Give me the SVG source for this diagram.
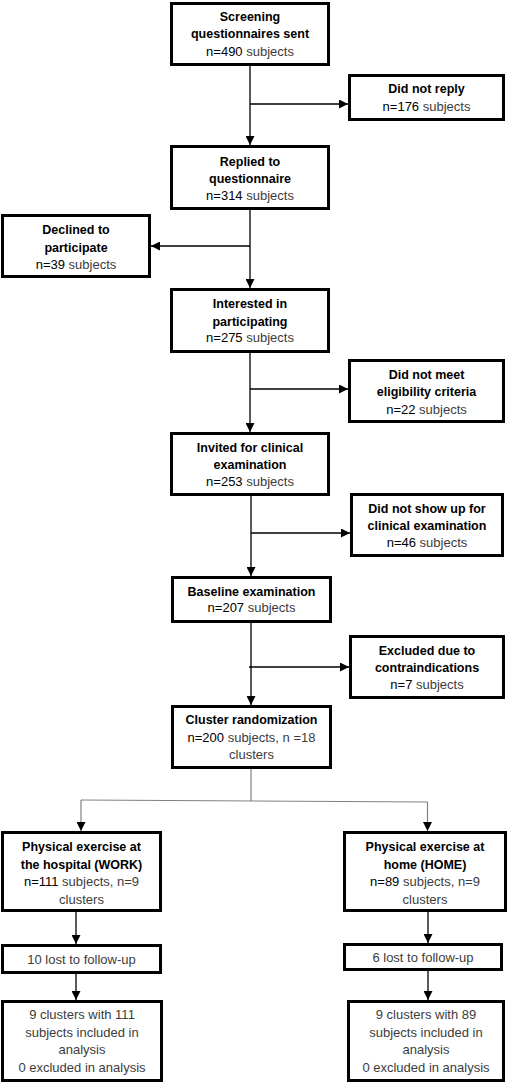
<svg xmlns="http://www.w3.org/2000/svg" width="508" height="1083" viewBox="0 0 508 1083">
<style>
.box{fill:#fff;stroke:#000;stroke-width:3}
text{font-family:"Liberation Sans",Arial,sans-serif;font-size:13px;text-anchor:middle;fill:#3c3c3c}
.b{font-weight:bold;fill:#000;font-size:12.5px}
.k{fill:#000}
.c{fill:none;stroke:#000;stroke-width:1.3}
.g{fill:none;stroke:#808080;stroke-width:1.2}
</style>
<defs>
<marker id="ah" markerUnits="userSpaceOnUse" markerWidth="9" markerHeight="9" refX="8" refY="4" orient="auto" viewBox="0 0 8 8">
<path d="M0,0 L8,4 L0,8 Z" fill="#000"/>
</marker>
</defs>
<rect width="508" height="1083" fill="#fff"/>
<g id="connectors">
<line class="c" x1="250" y1="66" x2="250" y2="145" marker-end="url(#ah)"/>
<line class="c" x1="250" y1="104" x2="348" y2="104" marker-end="url(#ah)"/>
<line class="c" x1="250" y1="210" x2="250" y2="288" marker-end="url(#ah)"/>
<line class="c" x1="250" y1="246" x2="151" y2="246" marker-end="url(#ah)"/>
<line class="c" x1="250" y1="353" x2="250" y2="432" marker-end="url(#ah)"/>
<line class="c" x1="250" y1="389" x2="348" y2="389" marker-end="url(#ah)"/>
<line class="c" x1="251" y1="496" x2="251" y2="576" marker-end="url(#ah)"/>
<line class="c" x1="251" y1="533" x2="350" y2="533" marker-end="url(#ah)"/>
<line class="c" x1="251" y1="623" x2="251" y2="705" marker-end="url(#ah)"/>
<line class="c" x1="249" y1="667" x2="349" y2="667" marker-end="url(#ah)"/>
<line class="g" x1="251" y1="769" x2="251" y2="801"/>
<line class="g" x1="81" y1="800" x2="427.5" y2="802"/>
<line class="g" x1="81" y1="800" x2="81" y2="831" marker-end="url(#ah)"/>
<line class="g" x1="427.5" y1="802" x2="427.5" y2="831" marker-end="url(#ah)"/>
<line class="c" x1="76" y1="912" x2="76" y2="944" marker-end="url(#ah)"/>
<line class="c" x1="76" y1="974" x2="76" y2="1000" marker-end="url(#ah)"/>
<line class="c" x1="428" y1="912" x2="428" y2="943" marker-end="url(#ah)"/>
<line class="c" x1="428" y1="971" x2="428" y2="1000" marker-end="url(#ah)"/>
</g>
<g id="screening">
<rect class="box" x="171.5" y="3.5" width="157" height="61"/>
<text class="b" x="250" y="20.5">Screening</text>
<text class="b" x="250" y="38">questionnaires sent</text>
<text x="250" y="55.5"><tspan class="k">n=490</tspan> subjects</text>
</g>
<g id="noreply">
<rect class="box" x="349.5" y="75.5" width="154" height="44"/>
<text class="b" x="426.5" y="92.5">Did not reply</text>
<text x="426.5" y="110.5"><tspan class="k">n=176</tspan> subjects</text>
</g>
<g id="replied">
<rect class="box" x="171.5" y="146.5" width="157" height="62"/>
<text class="b" x="250" y="165.5">Replied to</text>
<text class="b" x="250" y="182.5">questionnaire</text>
<text x="250" y="199.5"><tspan class="k">n=314</tspan> subjects</text>
</g>
<g id="declined">
<rect class="box" x="2.5" y="215.5" width="147" height="61"/>
<text class="b" x="76" y="233.5">Declined to</text>
<text class="b" x="76" y="251.5">participate</text>
<text x="76" y="268.5"><tspan class="k">n=39</tspan> subjects</text>
</g>
<g id="interested">
<rect class="box" x="171.5" y="289.5" width="157" height="62"/>
<text class="b" x="250" y="307.5">Interested in</text>
<text class="b" x="250" y="325.5">participating</text>
<text x="250" y="341.5"><tspan class="k">n=275</tspan> subjects</text>
</g>
<g id="noteligible">
<rect class="box" x="349.5" y="360.5" width="154" height="61"/>
<text class="b" x="426.5" y="378.5">Did not meet</text>
<text class="b" x="426.5" y="395.5">eligibility criteria</text>
<text x="426.5" y="413.5"><tspan class="k">n=22</tspan> subjects</text>
</g>
<g id="invited">
<rect class="box" x="171.5" y="433.5" width="157" height="61"/>
<text class="b" x="250" y="451.5">Invited for clinical</text>
<text class="b" x="250" y="468.5">examination</text>
<text x="250" y="485.5"><tspan class="k">n=253</tspan> subjects</text>
</g>
<g id="noshow">
<rect class="box" x="351.5" y="494.5" width="151" height="61"/>
<text class="b" x="427" y="512.5">Did not show up for</text>
<text class="b" x="427" y="529.5">clinical examination</text>
<text x="427" y="546.5"><tspan class="k">n=46</tspan> subjects</text>
</g>
<g id="baseline">
<rect class="box" x="172.5" y="577.5" width="158" height="44"/>
<text class="b" x="251.5" y="595.5">Baseline examination</text>
<text x="251.5" y="611.5"><tspan class="k">n=207</tspan> subjects</text>
</g>
<g id="excluded">
<rect class="box" x="350.5" y="636.5" width="153" height="61"/>
<text class="b" x="427" y="654.5">Excluded due to</text>
<text class="b" x="427" y="671.5">contraindications</text>
<text x="427" y="688.5"><tspan class="k">n=7</tspan> subjects</text>
</g>
<g id="cluster">
<rect class="box" x="172.5" y="706.5" width="158" height="61"/>
<text class="b" x="251.5" y="723.5">Cluster randomization</text>
<text x="251.5" y="741.5"><tspan class="k">n=200</tspan> subjects, n =18</text>
<text x="251.5" y="758.5">clusters</text>
</g>
<g id="work">
<rect class="box" x="2.5" y="832.5" width="158" height="78"/>
<text class="b" x="81.5" y="850.5">Physical exercise at</text>
<text class="b" x="81.5" y="868.5">the hospital (WORK)</text>
<text x="81.5" y="885.5"><tspan class="k">n=111</tspan> subjects, n=9</text>
<text x="81.5" y="903.5">clusters</text>
</g>
<g id="home">
<rect class="box" x="344.5" y="832.5" width="161" height="78"/>
<text class="b" x="425" y="850.5">Physical exercise at</text>
<text class="b" x="425" y="868.5">home (HOME)</text>
<text x="425" y="885.5"><tspan class="k">n=89</tspan> subjects, n=9</text>
<text x="425" y="903.5">clusters</text>
</g>
<g id="worklost">
<rect class="box" x="2.5" y="945.5" width="158" height="27"/>
<text x="81.5" y="963.5">10 lost to follow-up</text>
</g>
<g id="homelost">
<rect class="box" x="344.5" y="944.5" width="157" height="25"/>
<text x="423" y="961.5">6 lost to follow-up</text>
</g>
<g id="workfinal">
<rect class="box" x="2.5" y="1001.5" width="159" height="79"/>
<text x="82" y="1018.5">9 clusters with 111</text>
<text x="82" y="1036.5">subjects included in</text>
<text x="82" y="1053.5">analysis</text>
<text x="82" y="1071.5">0 excluded in analysis</text>
</g>
<g id="homefinal">
<rect class="box" x="348.5" y="1001.5" width="155" height="79"/>
<text x="426" y="1018.5">9 clusters with 89</text>
<text x="426" y="1036.5">subjects included in</text>
<text x="426" y="1053.5">analysis</text>
<text x="426" y="1071.5">0 excluded in analysis</text>
</g>
</svg>
